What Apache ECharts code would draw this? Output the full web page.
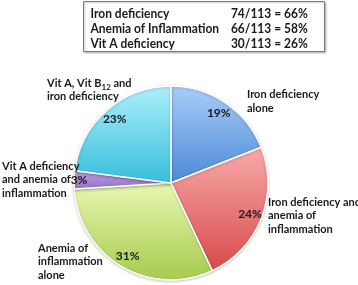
<!DOCTYPE html>
<html><head><meta charset="utf-8">
<script src="https://cdn.jsdelivr.net/npm/echarts@6/dist/echarts.min.js"></script>
<style>html,body{margin:0;padding:0;background:#fff}#c{width:358px;height:285px}</style>
</head><body><div id="c"></div>
<script>
// ---- data ----
const categories = [
  'Iron deficiency alone',
  'Iron deficiency and anemia of inflammation',
  'Anemia of inflammation alone',
  'Vit A deficiency and anemia of inflammation',
  'Vit A, Vit B12 and iron deficiency'
];
const labelTexts = [
  'Iron deficiency\nalone',
  'Iron deficiency and\nanemia of\ninflammation',
  'Anemia of\ninflammation\nalone',
  'Vit A deficiency\nand anemia of\ninflammation',
  'Vit A, Vit B{sub|12} and\niron deficiency'
];
const percentages = [19, 24, 31, 3, 23];
const tableLabels = ['Iron deficiency', 'Anemia of Inflammation', 'Vit A deficiency'];
const tableRatios = ['74/113 = 66%', '66/113 = 58%', '30/113 = 26%'];

// ---- styles ----
const FONT = 'Lato, sans-serif';
const sliceColors = [
  ['#a9cdf8', '#4a89d6'],
  ['#f8aaaa', '#d94a4a'],
  ['#e8f8b2', '#a6ca4c'],
  ['#c0a4e6', '#8f6fc0'],
  ['#aef0fc', '#36bedb']
];
const labelAnchors = [[247, 101.5], [268, 215.5], [38, 261.5], [2, 179.5], [47, 90]];
const CX = 171, CY = 183, R = 97;

const chart = echarts.init(document.getElementById('c'));

const pieData = categories.map((name, i) => ({
  name: name,
  value: percentages[i],
  itemStyle: {
    color: new echarts.graphic.LinearGradient(0, 0, 0, 1, [
      {offset: 0, color: sliceColors[i][0]},
      {offset: 1, color: sliceColors[i][1]}
    ])
  }
}));

const graphics = [{
  type: 'rect',
  shape: {x: 83.5, y: 1.5, width: 241, height: 50},
  style: {fill: '#fff', stroke: '#7a7a7a', lineWidth: 1, shadowBlur: 2, shadowColor: 'rgba(0,0,0,0.25)', shadowOffsetX: 1, shadowOffsetY: 1}
}];
tableLabels.forEach((t, i) => {
  graphics.push({type: 'text', x: 87, y: 13.5 + i * 15, style: {text: t, font: 'bold 12.5px ' + FONT, fill: '#1a1a1a', verticalAlign: 'middle'}, scaleX: 0.96, originX: 87});
  graphics.push({type: 'text', x: 222, y: 13.5 + i * 15, style: {text: tableRatios[i], font: 'bold 12.5px ' + FONT, fill: '#1a1a1a', verticalAlign: 'middle'}, scaleX: 0.96, originX: 222});
});

chart.setOption({
  animation: false,
  graphic: graphics,
  series: [{
    type: 'pie',
    center: [CX, CY],
    radius: [0, R],
    startAngle: 90,
    clockwise: true,
    avoidLabelOverlap: false,
    silent: true,
    itemStyle: {borderColor: '#fff', borderWidth: 1.5, shadowBlur: 3, shadowColor: 'rgba(0,0,0,0.2)', shadowOffsetY: 1},
    label: {
      show: true,
      position: 'outside',
      formatter: p => labelTexts[p.dataIndex],
      fontFamily: FONT, fontWeight: 'bold', fontSize: 11, lineHeight: 13.5, color: '#1a1a1a',
      rich: {sub: {fontFamily: FONT, fontWeight: 'bold', fontSize: 8, color: '#1a1a1a', verticalAlign: 'top', padding: [7, 0, 0, 0]}}
    },
    labelLine: {show: false},
    labelLayout: p => ({x: labelAnchors[p.dataIndex][0], y: labelAnchors[p.dataIndex][1], align: 'left', verticalAlign: 'middle'}),
    data: pieData
  }, {
    type: 'pie',
    center: [CX, CY],
    radius: [70, 94],
    startAngle: 90,
    clockwise: true,
    silent: true,
    avoidLabelOverlap: false,
    itemStyle: {color: 'rgba(0,0,0,0)'},
    label: {
      show: true, position: 'inside',
      formatter: '{c}%',
      fontFamily: FONT, fontWeight: 'bold', fontSize: 12, color: '#1a1a1a'
    },
    labelLayout: p => (p.dataIndex === 3 ? {dx: -7} : {}),
    labelLine: {show: false},
    data: categories.map((name, i) => ({name: name, value: percentages[i]}))
  }]
});
</script>
</body></html>
